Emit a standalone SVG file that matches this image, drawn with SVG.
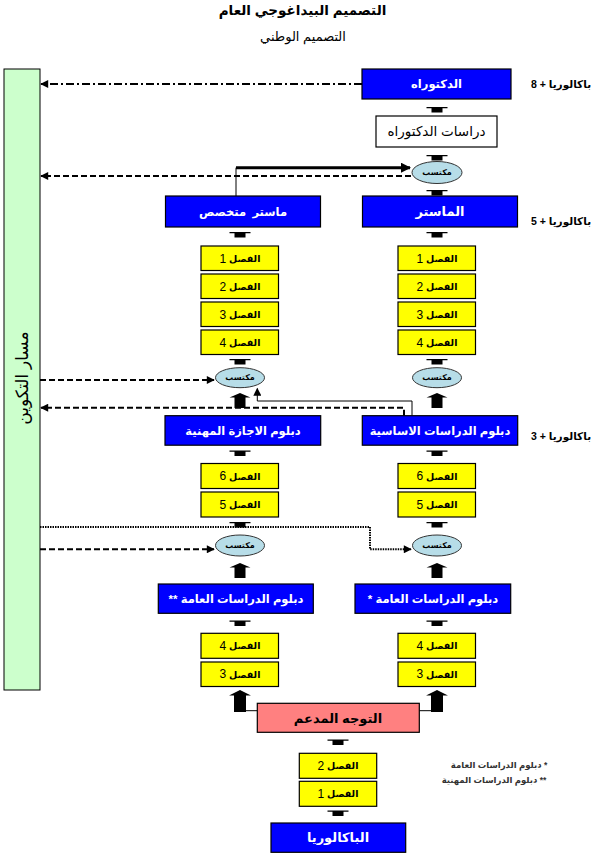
<svg xmlns="http://www.w3.org/2000/svg" xmlns:xlink="http://www.w3.org/1999/xlink" width="599" height="857" viewBox="0 0 599 857">
<style>
text{font-family:"Liberation Sans","DejaVu Sans",sans-serif;direction:rtl;text-anchor:middle;dominant-baseline:central}
.blue{fill:#0000ff;stroke:#000;stroke-width:1.2}
.yel{fill:#ffff00;stroke:#000;stroke-width:1.2}
.wt{fill:#fff;font-weight:bold;font-size:11.5px}
.yt{fill:#000;font-weight:bold;font-size:9.5px}
.yt tspan{font-size:12px;font-weight:normal}
.el{fill:#b7dde8;stroke:#333;stroke-width:1}
.et{fill:#000;font-weight:bold;font-size:8px}
.side{fill:#000;font-weight:bold;font-size:10.5px}
.dash{fill:none;stroke:#000;stroke-width:2;stroke-dasharray:6,3}
.dd{fill:none;stroke:#000;stroke-width:2;stroke-dasharray:8,3,2,3}
.dot{fill:none;stroke:#000;stroke-width:2;stroke-dasharray:1.5,1}
.thin{fill:none;stroke:#000;stroke-width:1}
</style>
<defs>
<marker id="ah" viewBox="0 0 10 10" refX="9" refY="5" markerWidth="9" markerHeight="8" markerUnits="userSpaceOnUse" orient="auto"><path d="M0,0 L10,5 L0,10 Z" fill="#000"/></marker>
<marker id="ahb" viewBox="0 0 10 10" refX="9" refY="5" markerWidth="11" markerHeight="10" markerUnits="userSpaceOnUse" orient="auto"><path d="M0,0 L10,5 L0,10 Z" fill="#000"/></marker>
<path id="sc" d="M-10.5,1 H10.5 V2.2 H5.5 V6.5 H-5.5 V2.2 H-10.5 Z" fill="#000"/>
<path id="ba" d="M0,0 L10.5,4.5 H5.5 V15 H-5.5 V4.5 H-10.5 Z" fill="#000"/>
<path id="bb" d="M0,0 L11,5.5 H6 V22 H-6 V5.5 H-11 Z" fill="#000"/>
</defs>

<g id="title">
<text x="302.5" y="10" style="font-weight:bold;font-size:13.5px">التصميم البيداغوجي العام</text>
<text x="303" y="36" style="font-size:13px">التصميم الوطني</text>
</g>

<g id="track">
<rect x="4" y="69" width="36" height="621" fill="#ccffcc" stroke="#000" stroke-width="1"/>
<text transform="translate(22,378) rotate(-90)" style="font-size:17px">مسار التكوين</text>
</g>

<g id="connectors">
<path class="dd" d="M362,84 H41" marker-end="url(#ah)"/>
<path class="dash" d="M411,176 H41" marker-end="url(#ah)"/>
<path class="thin" d="M236,196 V167.7"/>
<path d="M236,167.7 H410" fill="none" stroke="#000" stroke-width="3" marker-end="url(#ahb)"/>
<path class="dash" d="M40,380 H214" marker-end="url(#ah)"/>
<path class="thin" d="M412,415.7 V401 H257.3 V388.5" marker-end="url(#ah)"/>
<path class="dash" d="M404,415.7 V407.7 H41" marker-end="url(#ah)"/>
<path class="dot" d="M40,527 H370 V549.3 H411" marker-end="url(#ah)"/>
<path class="dash" d="M40,549.3 H214" marker-end="url(#ah)"/>
<path class="thin" d="M245.7,710.7 H257.3 M419.3,710.7 H431"/>
<use xlink:href="#sc" x="437" y="106"/>
<use xlink:href="#sc" x="437" y="154"/>
<use xlink:href="#sc" x="437" y="189"/>
<use xlink:href="#sc" x="437" y="231"/>
<use xlink:href="#sc" x="240" y="231"/>
<use xlink:href="#sc" x="437" y="358"/>
<use xlink:href="#sc" x="240" y="358"/>
<use xlink:href="#ba" x="437" y="393"/>
<use xlink:href="#ba" x="240" y="393"/>
<use xlink:href="#sc" x="437" y="449.5"/>
<use xlink:href="#sc" x="240" y="449.5"/>
<use xlink:href="#sc" x="437" y="521"/>
<use xlink:href="#sc" x="240" y="521"/>
<use xlink:href="#ba" x="437" y="563"/>
<use xlink:href="#ba" x="240" y="563"/>
<use xlink:href="#sc" x="437" y="619.5"/>
<use xlink:href="#sc" x="240" y="619.5"/>
<use xlink:href="#bb" x="437" y="690"/>
<use xlink:href="#bb" x="240" y="690"/>
<use xlink:href="#sc" x="338" y="738.5"/>
<use xlink:href="#sc" x="338" y="809.5"/>
</g>

<g id="doctorat">
<rect class="blue" x="362" y="69" width="149" height="30"/>
<text class="wt" x="436.5" y="84">الدكتوراه</text>
</g>
<g id="doc-studies">
<rect x="376" y="116" width="121" height="31" fill="#fff" stroke="#000" stroke-width="1.2"/>
<text x="436.5" y="131.5" style="font-size:13.5px">دراسات الدكتوراه</text>
</g>
<g id="acq1">
<ellipse class="el" cx="437" cy="172.5" rx="25" ry="11"/>
<text class="et" x="437" y="172.5">مكتسب</text>
</g>
<g id="master">
<rect class="blue" x="362.5" y="196" width="155" height="31"/>
<text class="wt" x="440" y="211.5" style="font-size:13px">الماستر</text>
</g>
<g id="master-spec">
<rect class="blue" x="165.5" y="196" width="155" height="31"/>
<text class="wt" x="243" y="211.5" xml:space="preserve">ماستر  متخصص</text>
</g>

<g id="m-s1"><rect class="yel" x="398" y="246" width="77.5" height="24.5"/><text class="yt" x="437" y="258.5">الفصل <tspan>1</tspan></text></g>
<g id="m-s2"><rect class="yel" x="398" y="274" width="77.5" height="24.5"/><text class="yt" x="437" y="286.5">الفصل <tspan>2</tspan></text></g>
<g id="m-s3"><rect class="yel" x="398" y="302" width="77.5" height="24.5"/><text class="yt" x="437" y="314.5">الفصل <tspan>3</tspan></text></g>
<g id="m-s4"><rect class="yel" x="398" y="330" width="77.5" height="24.5"/><text class="yt" x="437" y="342.5">الفصل <tspan>4</tspan></text></g>
<g id="ms-s1"><rect class="yel" x="201" y="246" width="77.5" height="24.5"/><text class="yt" x="240" y="258.5">الفصل <tspan>1</tspan></text></g>
<g id="ms-s2"><rect class="yel" x="201" y="274" width="77.5" height="24.5"/><text class="yt" x="240" y="286.5">الفصل <tspan>2</tspan></text></g>
<g id="ms-s3"><rect class="yel" x="201" y="302" width="77.5" height="24.5"/><text class="yt" x="240" y="314.5">الفصل <tspan>3</tspan></text></g>
<g id="ms-s4"><rect class="yel" x="201" y="330" width="77.5" height="24.5"/><text class="yt" x="240" y="342.5">الفصل <tspan>4</tspan></text></g>

<g id="acq2l"><ellipse class="el" cx="240" cy="377.7" rx="24.5" ry="10"/><text class="et" x="240" y="377.7">مكتسب</text></g>
<g id="acq2r"><ellipse class="el" cx="437" cy="377.7" rx="24.5" ry="10"/><text class="et" x="437" y="377.7">مكتسب</text></g>

<g id="lic-pro">
<rect class="blue" x="165" y="415.7" width="155.7" height="29.5"/>
<text class="wt" x="243" y="430.5">دبلوم الاجازة المهنية</text>
</g>
<g id="lic-fond">
<rect class="blue" x="362.3" y="415.7" width="155.4" height="29.5"/>
<text class="wt" x="440" y="430.5">دبلوم الدراسات الاساسية</text>
</g>

<g id="l-s6"><rect class="yel" x="398" y="463.5" width="77.5" height="25"/><text class="yt" x="437" y="476">الفصل <tspan>6</tspan></text></g>
<g id="l-s5"><rect class="yel" x="398" y="492" width="77.5" height="25"/><text class="yt" x="437" y="504.5">الفصل <tspan>5</tspan></text></g>
<g id="lp-s6"><rect class="yel" x="201" y="463.5" width="77.5" height="25"/><text class="yt" x="240" y="476">الفصل <tspan>6</tspan></text></g>
<g id="lp-s5"><rect class="yel" x="201" y="492" width="77.5" height="25"/><text class="yt" x="240" y="504.5">الفصل <tspan>5</tspan></text></g>

<g id="acq3l"><ellipse class="el" cx="240" cy="545.5" rx="24.5" ry="10.5"/><text class="et" x="240" y="545.5">مكتسب</text></g>
<g id="acq3r"><ellipse class="el" cx="437" cy="545.5" rx="24.5" ry="10.5"/><text class="et" x="437" y="545.5">مكتسب</text></g>

<g id="deug2">
<rect class="blue" x="158.3" y="584" width="155" height="29.3"/>
<text class="wt" x="236" y="598.5">دبلوم الدراسات العامة **</text>
</g>
<g id="deug1">
<rect class="blue" x="355" y="584" width="155.7" height="29.3"/>
<text class="wt" x="433" y="598.5">دبلوم الدراسات العامة *</text>
</g>

<g id="g-s4r"><rect class="yel" x="398" y="633.3" width="77.5" height="25"/><text class="yt" x="437" y="645.8">الفصل <tspan>4</tspan></text></g>
<g id="g-s3r"><rect class="yel" x="398" y="662" width="77.5" height="24.5"/><text class="yt" x="437" y="674.3">الفصل <tspan>3</tspan></text></g>
<g id="g-s4l"><rect class="yel" x="201" y="633.3" width="77.5" height="25"/><text class="yt" x="240" y="645.8">الفصل <tspan>4</tspan></text></g>
<g id="g-s3l"><rect class="yel" x="201" y="662" width="77.5" height="24.5"/><text class="yt" x="240" y="674.3">الفصل <tspan>3</tspan></text></g>

<g id="orient">
<rect x="257.3" y="703.3" width="162" height="29" fill="#ff8080" stroke="#000" stroke-width="1.2"/>
<text x="338" y="718" style="font-weight:bold;font-size:13px;fill:#000">التوجه المدعم</text>
</g>

<g id="c-s2"><rect class="yel" x="299.3" y="753.3" width="77.4" height="25"/><text class="yt" x="338" y="765.8">الفصل <tspan>2</tspan></text></g>
<g id="c-s1"><rect class="yel" x="299.3" y="781.3" width="77.4" height="25"/><text class="yt" x="338" y="793.8">الفصل <tspan>1</tspan></text></g>

<g id="bac">
<rect class="blue" x="271" y="823" width="134.7" height="29.3"/>
<text class="wt" x="338" y="837.5" style="font-size:13px">الباكالوريا</text>
</g>

<g id="levels">
<text class="side" x="561" y="84">باكالوريا + 8</text>
<text class="side" x="561" y="221">باكالوريا + 5</text>
<text class="side" x="561" y="436">باكالوريا + 3</text>
</g>

<g id="legend">
<text x="499" y="765" style="font-weight:bold;font-size:8.5px;fill:#333">* دبلوم الدراسات العامة</text>
<text x="494" y="779.5" style="font-weight:bold;font-size:8.5px;fill:#333">** دبلوم الدراسات المهنية</text>
</g>
</svg>
